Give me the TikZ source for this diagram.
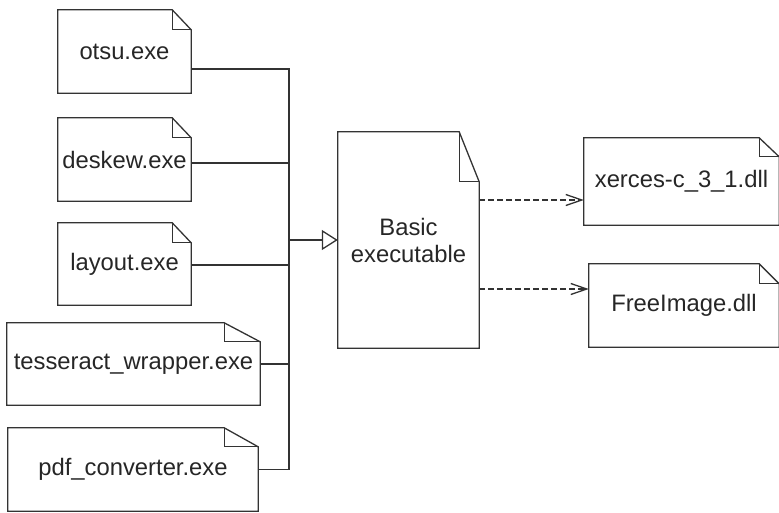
\documentclass[tikz,border=0pt]{standalone}
\usepackage{fontspec}
\setmainfont{Liberation Sans}
\usetikzlibrary{arrows.meta, calc}
\definecolor{umlline}{RGB}{51,51,51}

% outline of a UML artifact with a folded corner
\newcommand{\docfold}[3]{% node, fold width, fold height
  \draw[umlline,line width=1.3pt] (#1.south west) -- (#1.south east)
    -- ($(#1.north east)+(0,#3)$) -- ($(#1.north east)+(-#2,0)$)
    -- (#1.north west) -- cycle;
  \draw[umlline,line width=1.3pt] ($(#1.north east)+(-#2,0)$) |- ($(#1.north east)+(0,#3)$);
}

\begin{document}
\begin{tikzpicture}[x=1pt,y=-1pt,
    doc/.style={inner sep=0pt,align=center,text=black!85,
                font=\fontsize{23.8}{27}\selectfont},
    conn/.style={umlline,line width=1.3pt},
    gen/.style={conn,-{Triangle[open,length=16pt,width=20pt]}},
    dep/.style={conn,dash pattern=on 6pt off 3pt,
                -{Straight Barb[length=16pt,width=11pt]}}
]
  \useasboundingbox (0,0) rectangle (779,512);

  % Executables
  \node[doc,minimum width=133pt,minimum height=83pt] (otsu) at (124.5,51.5) {otsu.exe};
  \node[doc,minimum width=133pt,minimum height=83pt] (deskew) at (124.5,159.5) {deskew.exe};
  \node[doc,minimum width=133pt,minimum height=82pt] (layout) at (124.5,264) {layout.exe};
  \node[doc,minimum width=253pt,minimum height=82pt] (tess) at (133.5,364) {tesseract\_wrapper.exe};
  \node[doc,minimum width=250pt,minimum height=83pt] (pdfconv) at (133,469.5) {pdf\_converter.exe};

  % Basic executable
  \node[doc,minimum width=141pt,minimum height=216pt] (basic) at (408.5,240) {Basic\\executable};

  % Libraries
  \node[doc,minimum width=195pt,minimum height=87pt] (xerces) at (681.5,181.5) {xerces-c\_3\_1.dll};
  \node[doc,minimum width=190pt,minimum height=83pt] (freeimg) at (684,305.5) {FreeImage.dll};

  \docfold{otsu}{19}{20}
  \docfold{deskew}{19}{20}
  \docfold{layout}{19}{20}
  \docfold{tess}{36}{19}
  \docfold{pdfconv}{34}{19}
  \docfold{basic}{20}{50}
  \docfold{xerces}{20}{19}
  \docfold{freeimg}{20}{20}

  % Generalisation
  \coordinate (bus) at (289,240);
  \draw[conn] ([yshift=-17.5pt]otsu.east) -| (bus);
  \draw[conn] ([yshift=-3.5pt]deskew.east) -| (bus);
  \draw[conn] ([yshift=-1pt]layout.east) -| (bus);
  \draw[conn] (tess.east) -| (bus);
  \draw[conn] (pdfconv.east) -| (bus);
  \draw[gen] (bus) -- (basic.west);

  % Dependencies
  \coordinate (dx) at ([yshift=40pt]basic.east);
  \coordinate (df) at ([yshift=-49pt]basic.east);
  \draw[dep] (dx) -- (dx -| xerces.west);
  \draw[dep] (df) -- (df -| freeimg.west);
\end{tikzpicture}
\end{document}
